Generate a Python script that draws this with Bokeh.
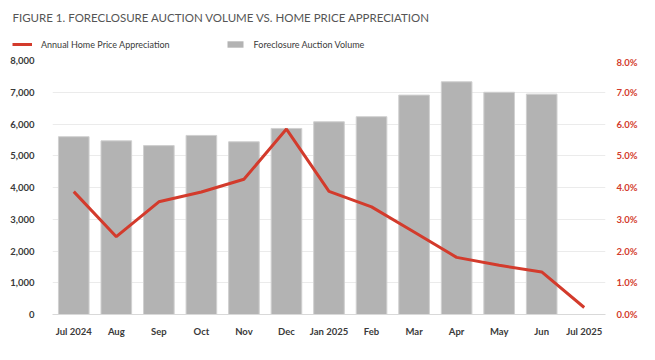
from bokeh.plotting import figure
from bokeh.layouts import column
from bokeh.models import (Range1d, LinearAxis, PrintfTickFormatter, NumeralTickFormatter,
                          Legend, LegendItem, ColumnDataSource, FixedTicker, Label)
from bokeh.embed import file_html
from bokeh.resources import INLINE

months = ["Jul 2024", "Aug", "Sep", "Oct", "Nov", "Dec", "Jan 2025", "Feb",
          "Mar", "Apr", "May", "Jun", "Jul 2025"]
bar_months = months[:12]
auction_volume = [5600, 5470, 5320, 5640, 5440, 5860, 6070, 6230, 6910, 7330, 7000, 6940]
hpa_pct = [3.87, 2.45, 3.55, 3.86, 4.26, 5.84, 3.88, 3.39, 2.60, 1.80, 1.55, 1.34, 0.22]
title_text = "FIGURE 1. FORECLOSURE AUCTION VOLUME VS. HOME PRICE APPRECIATION"
line_label = "Annual Home Price Appreciation"
bar_label = "Foreclosure Auction Volume"

FONT = "Lato"
RED = "#d33b2c"
GRAY = "#b3b3b3"
TXT = "#3a3a3a"

# ---- header (title + legend), no axes so its frame fills the canvas
h = figure(width=637, height=56, x_range=Range1d(0, 1), y_range=Range1d(0, 1),
           x_axis_location=None, y_axis_location=None,
           output_backend="svg", toolbar_location=None,
           min_border_left=0, min_border_right=0, min_border_top=0, min_border_bottom=0)
h.frame_align = False
h.grid.visible = False
h.outline_line_color = None
h.add_layout(Label(x=12, y=39, x_units="screen", y_units="screen", text=title_text,
                   text_font=FONT, text_font_size="11.5px",
                   text_color="#555555", text_baseline="middle"))
# legend-only renderers (kept outside the visible range)
dl = h.line(x=[-5, -4], y=[-5, -5], line_color=RED, line_width=3)
db = h.vbar(x=[-5], top=[-4], bottom=-5, width=1, fill_color=GRAY, line_color=None)
lg = Legend(items=[LegendItem(label=line_label, renderers=[dl]),
                   LegendItem(label=bar_label, renderers=[db])],
            orientation="horizontal", location=(12, 6),
            label_text_font=FONT, label_text_font_size="9px", label_text_color=TXT,
            glyph_width=20, glyph_height=8, label_standoff=9, spacing=55,
            padding=0, margin=0, border_line_color=None, background_fill_alpha=0,
            label_height=12)
h.add_layout(lg, "center")

# ---- main chart
p = figure(x_range=months, y_range=Range1d(0, 8000), frame_width=553, frame_height=254,
           output_backend="svg", toolbar_location=None,
           min_border_left=52, min_border_right=30, min_border_bottom=34, min_border_top=4)
p.frame_align = False
p.extra_y_ranges = {"pct": Range1d(0, 8)}

bsrc = ColumnDataSource(dict(x=bar_months, y=auction_volume))
lsrc = ColumnDataSource(dict(x=months, y=hpa_pct))
p.vbar(x="x", top="y", source=bsrc, width=0.72, fill_color=GRAY,
       line_color="#d0d0d0", line_width=1)
p.line(x="x", y="y", source=lsrc, y_range_name="pct", line_color=RED, line_width=3)

p.outline_line_color = None
p.xgrid.grid_line_color = None
p.ygrid.grid_line_color = "#ebebeb"
p.ygrid.grid_line_width = 1
p.yaxis.ticker = FixedTicker(ticks=list(range(0, 8001, 1000)))

ax = p.yaxis[0]
ax.formatter = NumeralTickFormatter(format="0,0")
ax.axis_line_color = None
ax.major_tick_line_color = None
ax.minor_tick_line_color = None
ax.major_label_text_font = FONT
ax.major_label_text_font_size = "9.5px"
ax.major_label_text_font_style = "bold"
ax.major_label_text_color = TXT
ax.major_label_standoff = 12

rax = LinearAxis(y_range_name="pct", ticker=FixedTicker(ticks=list(range(0, 9))),
                 formatter=PrintfTickFormatter(format="%.1f%%"))
rax.axis_line_color = None
rax.major_tick_line_color = None
rax.minor_tick_line_color = None
rax.major_label_text_font = FONT
rax.major_label_text_font_size = "9.5px"
rax.major_label_text_font_style = "bold"
rax.major_label_text_color = RED
rax.major_label_standoff = 5
p.add_layout(rax, "right")

xa = p.xaxis[0]
xa.axis_line_color = "#d9d9d9"
xa.axis_line_width = 1
xa.major_tick_line_color = None
xa.minor_tick_line_color = None
xa.major_label_text_font = FONT
xa.major_label_text_font_size = "9.5px"
xa.major_label_text_font_style = "bold"
xa.major_label_text_color = TXT
xa.major_label_standoff = 5

layout = column(h, p, spacing=0)
open("out.html", "w").write(file_html(layout, INLINE))
